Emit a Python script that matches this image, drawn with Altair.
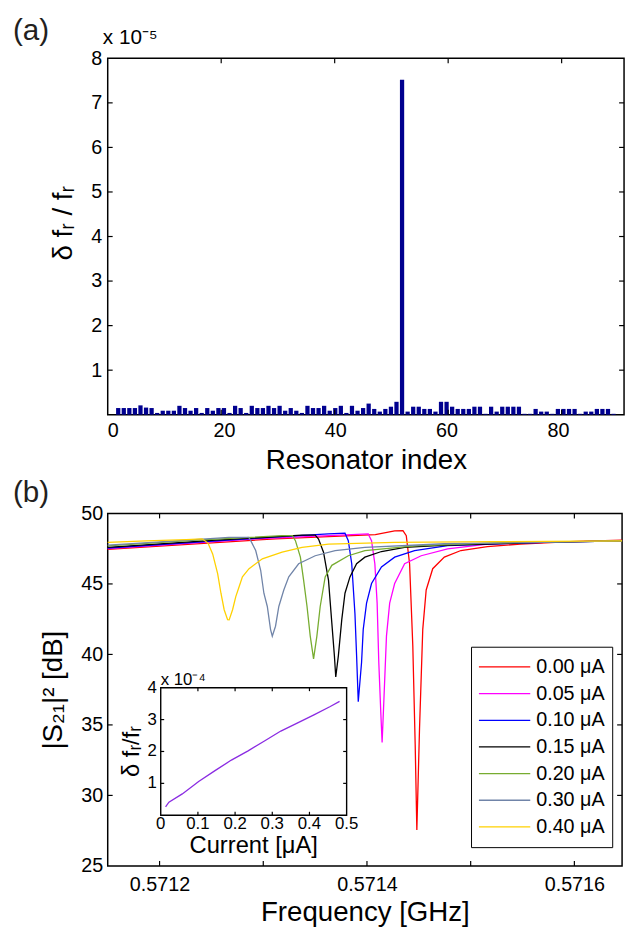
import altair as alt
import pandas as pd

FONT = "Liberation Sans"

# ---------------- panel (a) data ----------------
res_index = list(range(1, 91))
shift_e5 = [0.15, 0.15, 0.15, 0.15, 0.21, 0.16, 0.15, 0.04, 0.09, 0.09,
            0.09, 0.20, 0.15, 0.09, 0.15, 0.04, 0.15, 0.09, 0.15, 0.15,
            0.04, 0.20, 0.15, 0.04, 0.20, 0.15, 0.15, 0.20, 0.15, 0.20,
            0.09, 0.15, 0.09, 0.04, 0.20, 0.15, 0.15, 0.20, 0.09, 0.15,
            0.20, 0.04, 0.20, 0.09, 0.15, 0.25, 0.13, 0.07, 0.13, 0.18,
            0.29, 7.52, 0.07, 0.18, 0.18, 0.13, 0.13, 0.07, 0.29, 0.29,
            0.18, 0.13, 0.13, 0.13, 0.18, 0.18, 0.02, 0.18, 0.07, 0.18,
            0.18, 0.18, 0.18, 0.02, 0.02, 0.13, 0.07, 0.07, 0.02, 0.13,
            0.13, 0.13, 0.13, 0.02, 0.07, 0.07, 0.13, 0.13, 0.13, 0.02]

# ---------------- panel (b) data ----------------
currents = ["0.00 μA", "0.05 μA", "0.10 μA", "0.15 μA", "0.20 μA", "0.30 μA", "0.40 μA"]
colors = ["#FF0000", "#FF00FF", "#0000FF", "#000000", "#77AC30", "#7084A8", "#FFD100"]

f_000 = [0.5711500, 0.5713118, 0.5714081, 0.5714267, 0.5714347, 0.5714379, 0.5714411, 0.5714442,
         0.5714465, 0.5714481, 0.5714507, 0.5714538, 0.5714571, 0.5714634, 0.5714746, 0.5714906,
         0.5715161, 0.5715480, 0.5715959, 0.5716460]
s_000 = [47.45, 48.20, 48.50, 48.77, 48.78, 48.42, 46.43, 40.60, 33.60, 27.55, 34.80, 41.78,
         44.57, 46.08, 46.90, 47.37, 47.65, 47.83, 48.00, 48.11]

f_005 = [0.5711500, 0.5712927, 0.5714012, 0.5714044, 0.5714076, 0.5714098, 0.5714114, 0.5714133,
         0.5714146, 0.5714165, 0.5714188, 0.5714219, 0.5714267, 0.5714363, 0.5714523, 0.5714778,
         0.5715161, 0.5715799, 0.5716460]
s_005 = [47.50, 48.20, 48.55, 48.07, 46.43, 43.64, 39.44, 35.94, 33.75, 37.10, 41.30, 43.64,
         45.03, 46.43, 47.00, 47.48, 47.83, 47.97, 48.07]

f_010 = [0.5711500, 0.5712735, 0.5713626, 0.5713788, 0.5713820, 0.5713853, 0.5713884, 0.5713900,
         0.5713916, 0.5713948, 0.5713964, 0.5713996, 0.5714044, 0.5714140, 0.5714267, 0.5714459,
         0.5714778, 0.5715703, 0.5716460]
s_010 = [47.55, 48.15, 48.55, 48.60, 48.07, 46.43, 42.90, 39.90, 36.64, 39.44, 41.78, 43.64,
         45.03, 46.20, 46.90, 47.37, 47.72, 47.95, 48.05]

f_015 = [0.5711500, 0.5712544, 0.5713374, 0.5713501, 0.5713533, 0.5713581, 0.5713629, 0.5713661,
         0.5713686, 0.5713699, 0.5713724, 0.5713757, 0.5713788, 0.5713836, 0.5713900, 0.5713980,
         0.5714140, 0.5714363, 0.5714682, 0.5715703, 0.5716460]
s_015 = [47.60, 48.10, 48.46, 48.46, 48.18, 47.25, 45.27, 42.24, 39.90, 38.40, 39.90, 42.47,
         44.34, 45.50, 46.43, 46.90, 47.30, 47.60, 47.72, 47.95, 48.05]

f_020 = [0.5711500, 0.5712352, 0.5713182, 0.5713281, 0.5713310, 0.5713358, 0.5713389, 0.5713422,
         0.5713453, 0.5713485, 0.5713517, 0.5713549, 0.5713597, 0.5713661, 0.5713820, 0.5713980,
         0.5714459, 0.5715416, 0.5716460]
s_020 = [47.70, 48.10, 48.42, 48.42, 48.07, 46.90, 45.27, 43.40, 41.30, 39.68, 41.30, 43.40,
         45.50, 46.32, 47.00, 47.37, 47.70, 47.95, 48.05]

f_030 = [0.5711500, 0.5712161, 0.5712668, 0.5712860, 0.5712879, 0.5712927, 0.5712975, 0.5713006,
         0.5713039, 0.5713070, 0.5713087, 0.5713118, 0.5713150, 0.5713198, 0.5713246, 0.5713341,
         0.5713501, 0.5713693, 0.5713980, 0.5714746, 0.5715703, 0.5716460]
s_030 = [47.75, 48.05, 48.30, 48.30, 48.07, 47.37, 45.97, 44.34, 43.40, 41.78, 41.30, 42.00,
         43.40, 44.57, 45.50, 46.43, 47.00, 47.37, 47.60, 47.85, 47.95, 48.05]

f_040 = [0.5711500, 0.5711873, 0.5712256, 0.5712410, 0.5712467, 0.5712512, 0.5712560, 0.5712592,
         0.5712623, 0.5712656, 0.5712671, 0.5712704, 0.5712735, 0.5712767, 0.5712799, 0.5712863,
         0.5712991, 0.5713182, 0.5713374, 0.5713629, 0.5714267, 0.5715225, 0.5716460]
s_040 = [47.95, 48.05, 48.15, 48.20, 47.90, 47.13, 45.73, 44.34, 43.17, 42.47, 42.45, 43.17,
         44.10, 44.80, 45.50, 46.08, 46.78, 47.25, 47.60, 47.83, 47.95, 48.00, 48.05]

freqs = [f_000, f_005, f_010, f_015, f_020, f_030, f_040]
s21s = [s_000, s_005, s_010, s_015, s_020, s_030, s_040]

# inset data
inset_current = [0.013, 0.022, 0.058, 0.102, 0.146, 0.190, 0.235, 0.279, 0.323, 0.367, 0.412, 0.456, 0.481]
inset_shift_e4 = [0.26, 0.41, 0.67, 1.06, 1.40, 1.73, 2.02, 2.33, 2.64, 2.89, 3.15, 3.41, 3.57]

# ---------------- layout ----------------
W_A, H_A = 523, 361
W_B, H_B = 521, 357
A_TOP, B_TOP = 52, 511          # page y of the two plot areas
B_SHIFT = 3                     # panel (b) elements measured from x=111, plot drawn at x=108
TICK_FS = 20
TITLE_FS = 28
LABEL_FS = 30

a_xdom, a_ydom = [0, 91], [0, 8]
b_xdom, b_ydom = [0.57115, 0.571646], [25, 50]
# inset box inside panel (b), in panel pixels
IN_L, IN_R, IN_T, IN_B = 50.7 + B_SHIFT, 239 + B_SHIFT, 176.5, 305.7
i_x0, i_x1, i_y0, i_y1 = 0.0, 0.5, 0.0, 4.0
kx = (i_x1 - i_x0) / (IN_R - IN_L)
ky = (i_y1 - i_y0) / (IN_B - IN_T)
i_xdom = [i_x0 - IN_L * kx, i_x0 + (W_B - IN_L) * kx]
i_ydom = [i_y0 - (H_B - IN_B) * ky, i_y1 + IN_T * ky]

UP, DOWN, RIGHT, LEFT = "M0,0L0,-1", "M0,0L0,1", "M0,0L1,0", "M0,0L-1,0"


def sc(dom):
    return alt.Scale(domain=dom, nice=False, zero=False)


def ticks(xs, ys, shape, xdom, ydom, size=100, width=1.2):
    df = pd.DataFrame({"x": xs, "y": ys})
    return alt.Chart(df).mark_point(shape=shape, size=size, filled=False, color="black",
                                    strokeWidth=width, opacity=1).encode(
        x=alt.X("x:Q", scale=sc(xdom), axis=None),
        y=alt.Y("y:Q", scale=sc(ydom), axis=None))


def note(text, x, y, size, align="left", baseline="alphabetic", angle=0, color="black"):
    return alt.Chart(pd.DataFrame({"k": [0]})).mark_text(
        text=text, font=FONT, fontSize=size, align=align, baseline=baseline,
        angle=angle, color=color).encode(x=alt.value(x), y=alt.value(y))


# ---------------- panel (a) ----------------
df_a = pd.DataFrame({"idx": res_index, "v": shift_e5})
bars = alt.Chart(df_a).mark_bar(color="#00008F", size=4.3).encode(
    x=alt.X("idx:Q", scale=sc(a_xdom),
            axis=alt.Axis(values=[0, 20, 40, 60, 80], format="d", ticks=False, tickSize=0,
                          domain=False, grid=False, labelPadding=6, labelFontSize=TICK_FS,
                          title="Resonator index", titleFontSize=TITLE_FS, titleY=46,
                          titleBaseline="middle")),
    y=alt.Y("v:Q", scale=sc(a_ydom),
            axis=alt.Axis(values=list(range(1, 9)), format="d", ticks=False, tickSize=0,
                          domain=False, grid=False, labelPadding=6, labelFontSize=TICK_FS,
                          title="δ fᵣ / fᵣ", titleFontSize=TITLE_FS, titleX=-45,
                          titleY=H_A / 2 - 14, titleBaseline="middle")),
)
a_ticks = [
    ticks([20, 40, 60, 80], [0] * 4, UP, a_xdom, a_ydom),
    ticks([20, 40, 60, 80], [8] * 4, DOWN, a_xdom, a_ydom),
    ticks([0] * 7, list(range(1, 8)), RIGHT, a_xdom, a_ydom),
    ticks([91] * 7, list(range(1, 8)), LEFT, a_xdom, a_ydom),
]
panel_a = alt.layer(
    bars, *a_ticks,
    note("(a)", -96, -19, LABEL_FS, color="#231F20"),
    note("x 10⁻⁵", -5, -15, 21),
).resolve_scale(x="independent", y="independent").properties(width=W_A, height=H_A)

# ---------------- panel (b) ----------------
rows = []
for lab, fs, ss in zip(currents, freqs, s21s):
    for k, (f, s) in enumerate(zip(fs, ss)):
        rows.append({"current": lab, "f": f, "s": s, "k": k})
df_b = pd.DataFrame(rows)

lines = alt.Chart(df_b).mark_line(strokeWidth=1.3).encode(
    x=alt.X("f:Q", scale=sc(b_xdom),
            axis=alt.Axis(values=[0.5712, 0.5714, 0.5716], format=".4f", ticks=False, tickSize=0,
                          domain=False, grid=False, labelPadding=9, labelFontSize=TICK_FS,
                          title="Frequency [GHz]", titleFontSize=TITLE_FS, titleY=47,
                          titleBaseline="middle")),
    y=alt.Y("s:Q", scale=sc(b_ydom),
            axis=alt.Axis(values=[25, 30, 35, 40, 45, 50], format="d", ticks=False, tickSize=0,
                          domain=False, grid=False, labelPadding=5, labelFontSize=TICK_FS,
                          title="|S₂₁|² [dB]", titleFontSize=TITLE_FS, titleX=-55,
                          titleBaseline="middle")),
    color=alt.Color("current:N", scale=alt.Scale(domain=currents, range=colors),
                    legend=alt.Legend(title=None, orient="none", legendX=365 + B_SHIFT,
                                      legendY=137 + (B_TOP - A_TOP),
                                      symbolType="stroke", symbolSize=2704, symbolStrokeWidth=1.3,
                                      labelFontSize=20, labelFont=FONT, labelOffset=5,
                                      clipHeight=27, rowPadding=0, padding=7,
                                      strokeColor="black", fillColor="white")),
    order="k:Q",
)

bx_t = [0.5712, 0.5713, 0.5714, 0.5715, 0.5716]
by_t = [30, 35, 40, 45]
b_ticks = [
    ticks(bx_t, [25] * 5, UP, b_xdom, b_ydom),
    ticks(bx_t, [50] * 5, DOWN, b_xdom, b_ydom),
    ticks([b_xdom[0]] * 4, by_t, RIGHT, b_xdom, b_ydom),
    ticks([b_xdom[1]] * 4, by_t, LEFT, b_xdom, b_ydom),
]

# inset
inset_box = alt.Chart(pd.DataFrame({"x": [i_x0], "x2": [i_x1], "y": [i_y0], "y2": [i_y1]})).mark_rect(
    fill="white", stroke="black", strokeWidth=1.4).encode(
    x=alt.X("x:Q", scale=sc(i_xdom), axis=None), x2="x2:Q",
    y=alt.Y("y:Q", scale=sc(i_ydom), axis=None), y2="y2:Q")
inset_line = alt.Chart(pd.DataFrame({"c": inset_current, "d": inset_shift_e4})).mark_line(
    color="#8A2BE2", strokeWidth=1.3).encode(
    x=alt.X("c:Q", scale=sc(i_xdom), axis=None),
    y=alt.Y("d:Q", scale=sc(i_ydom), axis=None))
ix_t = [0.1, 0.2, 0.3, 0.4]
iy_t = [1, 2, 3]
inset_ticks = [
    ticks(ix_t, [i_y0] * 4, UP, i_xdom, i_ydom, size=49),
    ticks(ix_t, [i_y1] * 4, DOWN, i_xdom, i_ydom, size=49),
    ticks([i_x0] * 3, iy_t, RIGHT, i_xdom, i_ydom, size=49),
    ticks([i_x1] * 3, iy_t, LEFT, i_xdom, i_ydom, size=49),
]
ix_lab = [0, 0.1, 0.2, 0.3, 0.4, 0.5]
iy_lab = [1, 2, 3, 4]
inset_xlabels = alt.Chart(pd.DataFrame({"x": ix_lab, "y": [i_y0] * 6,
                                        "t": ["0", "0.1", "0.2", "0.3", "0.4", "0.5"]})).mark_text(
    font=FONT, fontSize=17, baseline="top", dy=1).encode(
    x=alt.X("x:Q", scale=sc(i_xdom), axis=None), y=alt.Y("y:Q", scale=sc(i_ydom), axis=None),
    text="t:N")
inset_ylabels = alt.Chart(pd.DataFrame({"x": [i_x0] * 4, "y": iy_lab,
                                        "t": ["1", "2", "3", "4"]})).mark_text(
    font=FONT, fontSize=17, align="right", baseline="middle", dx=-4).encode(
    x=alt.X("x:Q", scale=sc(i_xdom), axis=None), y=alt.Y("y:Q", scale=sc(i_ydom), axis=None),
    text="t:N")
inset_xtitle = alt.Chart(pd.DataFrame({"x": [0.25], "y": [i_y0]})).mark_text(
    text="Current [μA]", font=FONT, fontSize=24, baseline="top", dy=19).encode(
    x=alt.X("x:Q", scale=sc(i_xdom), axis=None), y=alt.Y("y:Q", scale=sc(i_ydom), axis=None))
inset_ytitle = alt.Chart(pd.DataFrame({"x": [i_x0], "y": [2.0]})).mark_text(
    text="δ fᵣ/fᵣ", font=FONT, fontSize=24, angle=270, baseline="middle", align="center",
    dy=-29).encode(
    x=alt.X("x:Q", scale=sc(i_xdom), axis=None), y=alt.Y("y:Q", scale=sc(i_ydom), axis=None))
inset_exp = alt.Chart(pd.DataFrame({"x": [i_x0], "y": [i_y1]})).mark_text(
    text="x 10⁻⁴", font=FONT, fontSize=17, align="left", baseline="alphabetic", dy=-3).encode(
    x=alt.X("x:Q", scale=sc(i_xdom), axis=None), y=alt.Y("y:Q", scale=sc(i_ydom), axis=None))

panel_b = alt.layer(
    lines, *b_ticks,
    inset_box, inset_line, *inset_ticks, inset_xlabels, inset_ylabels,
    inset_xtitle, inset_ytitle, inset_exp,
    note("(b)", -96, -12, LABEL_FS, color="#231F20"),
).resolve_scale(x="independent", y="independent").properties(width=W_B, height=H_B)

chart = alt.vconcat(panel_a, panel_b, spacing=2).properties(
    padding={"left": 4, "top": 1, "right": 0, "bottom": 0}, background="white"
).configure(font=FONT).configure_view(stroke="black", strokeWidth=1.5).configure_axis(
    labelFont=FONT, titleFont=FONT, titleFontWeight="normal", labelColor="black", titleColor="black")

chart.save("out.html", embed_options={"renderer": "svg", "actions": False})
